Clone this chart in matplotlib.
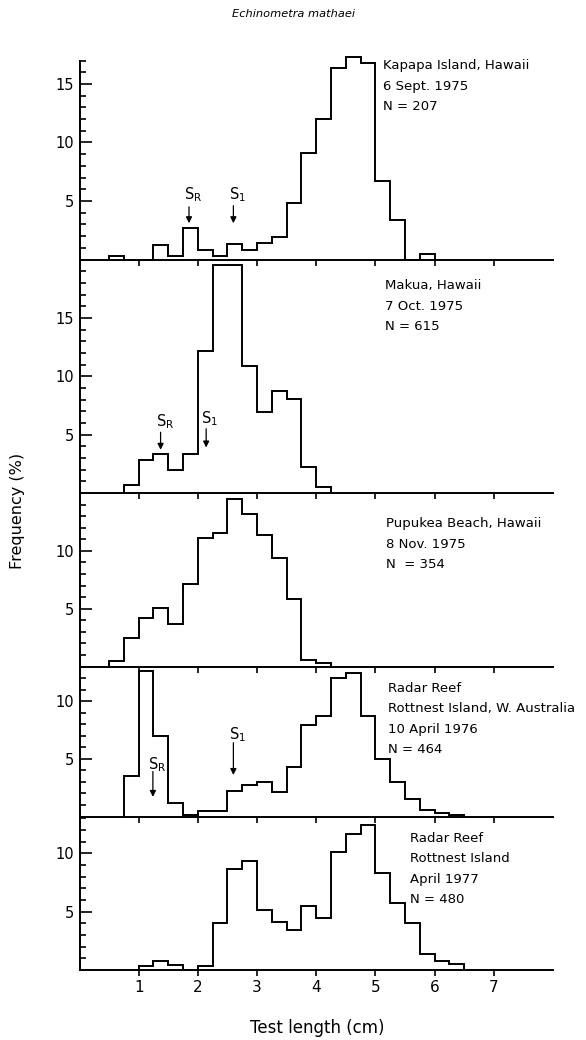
import numpy as np
import matplotlib
matplotlib.use("Agg")
import matplotlib.pyplot as plt
from matplotlib.ticker import FixedLocator

plt.rcParams['font.family'] = ['DejaVu Sans']
plt.rcParams['mathtext.fontset'] = 'dejavusans'

BIN_WIDTH = 0.25  # cm

# Size-frequency distributions (% of sample per 0.25 cm class)
kapapa_start = 0.5
kapapa_freq = [0.3, 0.0, 0.0, 1.2, 0.3, 2.7, 0.8, 0.3, 1.3, 0.85, 1.4, 1.9,
               4.85, 9.1, 12.0, 16.4, 17.3, 16.8, 6.7, 3.4, 0.0, 0.45]

makua_start = 0.75
makua_freq = [0.65, 2.8, 3.35, 2.0, 3.3, 12.2, 19.5, 19.5, 10.9, 6.9, 8.75,
              8.05, 2.25, 0.5]

pupukea_start = 0.5
pupukea_freq = [0.5, 2.45, 4.2, 5.1, 3.65, 7.1, 11.1, 11.55, 14.5, 13.15,
                11.35, 9.35, 5.85, 0.55, 0.28]

radar76_start = 0.75
radar76_freq = [3.5, 12.6, 6.95, 1.2, 0.15, 0.45, 0.45, 2.25, 2.7, 3.0, 2.1,
                4.3, 7.9, 8.75, 12.0, 12.4, 8.75, 5.0, 3.0, 1.5, 0.55, 0.3,
                0.12]

radar77_start = 1.0
radar77_freq = [0.35, 0.77, 0.4, 0.0, 0.3, 4.0, 8.65, 9.3, 5.1, 4.15, 3.45,
                5.5, 4.45, 10.1, 11.65, 12.4, 8.3, 5.7, 4.05, 1.35, 0.77, 0.5]

# Sample descriptions
kapapa_info = ["Kapapa Island, Hawaii", "6 Sept. 1975", "N = 207"]
makua_info = ["Makua, Hawaii", "7 Oct. 1975", "N = 615"]
pupukea_info = ["Pupukea Beach, Hawaii", "8 Nov. 1975", "N  = 354"]
radar76_info = ["Radar Reef", "Rottnest Island, W. Australia",
                "10 April 1976", "N = 464"]
radar77_info = ["Radar Reef", "Rottnest Island", "April 1977", "N = 480"]

# Size-class markers: (label, test length, arrow tail, arrow tip, label height)
kapapa_marks = [(r"$\mathrm{S_R}$", 1.85, 4.5, 3.1, 5.5),
                (r"$\mathrm{S_1}$", 2.60, 4.6, 3.1, 5.5)]
makua_marks = [(r"$\mathrm{S_R}$", 1.37, 5.2, 3.7, 6.1),
               (r"$\mathrm{S_1}$", 2.14, 5.5, 3.9, 6.4)]
radar76_marks = [(r"$\mathrm{S_R}$", 1.24, 3.9, 1.7, 4.5),
                 (r"$\mathrm{S_1}$", 2.60, 6.4, 3.6, 7.1)]

panels = [
    dict(start=kapapa_start, freq=kapapa_freq, info=kapapa_info,
         marks=kapapa_marks, ymax=17, info_xy=(5.13, 17.1)),
    dict(start=makua_start, freq=makua_freq, info=makua_info,
         marks=makua_marks, ymax=20, info_xy=(5.16, 18.3)),
    dict(start=pupukea_start, freq=pupukea_freq, info=pupukea_info,
         marks=[], ymax=15, info_xy=(5.18, 12.9)),
    dict(start=radar76_start, freq=radar76_freq, info=radar76_info,
         marks=radar76_marks, ymax=13, info_xy=(5.21, 11.7)),
    dict(start=radar77_start, freq=radar77_freq, info=radar77_info,
         marks=[], ymax=13.15, info_xy=(5.58, 11.85)),
]

W, H = 586, 1040
fig = plt.figure(figsize=(W / 100, H / 100), dpi=100)

# panel frames in pixels: (top, bottom) measured from the top edge
frames = [(60.5, 259.5), (259.5, 493.0), (493.0, 666.5), (666.5, 816.5),
          (816.5, 970.0)]
left_px, right_px = 79.5, 553.0
LW = 1.4

axes = []
for i, (p, (top, bot)) in enumerate(zip(panels, frames)):
    ax = fig.add_axes([left_px / W, 1 - bot / H, (right_px - left_px) / W,
                       (bot - top) / H])
    ax.patch.set_visible(False)
    axes.append(ax)

    freq = np.array(p["freq"])
    edges = p["start"] + BIN_WIDTH * np.arange(len(freq) + 1)
    ax.stairs(freq, edges, baseline=0, color="black", lw=LW, clip_on=False)

    ax.set_xlim(0, 8)
    ax.set_ylim(0, p["ymax"])
    for s in ("top", "right"):
        ax.spines[s].set_visible(False)
    for s in ("left", "bottom"):
        ax.spines[s].set_linewidth(LW)

    ax.set_xticks(range(1, 8))
    ax.tick_params(axis="x", direction="out", length=4, width=1.2,
                   labelsize=11, pad=3)
    if i < len(panels) - 1:
        ax.tick_params(axis="x", labelbottom=False)

    majors = [v for v in (5, 10, 15) if v < p["ymax"]]
    minors = [v for v in range(1, int(p["ymax"]) + 1) if v % 5]
    ax.yaxis.set_major_locator(FixedLocator(majors))
    ax.yaxis.set_minor_locator(FixedLocator(minors))
    ax.tick_params(axis="y", which="major", direction="in", length=8.5,
                   width=1.2, labelsize=10.5, pad=4)
    ax.tick_params(axis="y", which="minor", direction="in", length=4.3,
                   width=1.2)

    # sample description block
    ix, iy = p["info_xy"]
    for k, line in enumerate(p["info"]):
        ax.annotate(line, xy=(ix, iy), xycoords="data",
                    xytext=(0, -14.8 * k), textcoords="offset points",
                    ha="left", va="top", fontsize=9.5, annotation_clip=False)

    # size-class arrows
    for label, x, tail, tip, ly in p["marks"]:
        ax.annotate("", xy=(x, tip), xytext=(x, tail),
                    arrowprops=dict(arrowstyle="-|>", color="black", lw=0.9,
                                    mutation_scale=9, shrinkA=0, shrinkB=0))
        ax.text(x - 0.08, ly, label, ha="left", va="center", fontsize=10.5)

fig.text(294 / W, 1 - 14 / H, "Echinometra mathaei", style="italic",
         ha="center", va="center", fontsize=8.2)
fig.text(18 / W, 1 - 511 / H, "Frequency (%)", rotation=90, ha="center",
         va="center", fontsize=11.5)
fig.text(317 / W, 1 - 1028 / H, "Test length (cm)", ha="center",
         va="center", fontsize=12)

fig.savefig("out.png", dpi=100)
